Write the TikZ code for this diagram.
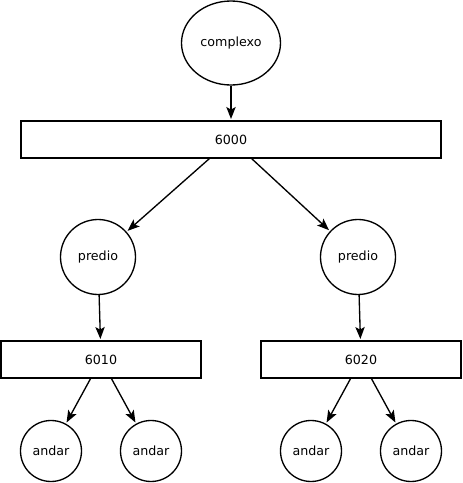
\documentclass[tikz,border=0pt]{standalone}
\usepackage{fontspec}
\setmainfont{DejaVu Sans}
\usetikzlibrary{arrows.meta,shapes.geometric}
\begin{document}
\begin{tikzpicture}[x=0.75pt,y=-0.75pt,
  every node/.style={font=\fontsize{9.5}{11}\selectfont, line width=1pt, draw, inner sep=0pt},
  box/.style={rectangle},
  circ/.style={circle},
  conn/.style={line width=1pt, -{Stealth[length=9pt,width=7pt,inset=2pt]}, shorten >=1pt}]
\useasboundingbox (0,0) rectangle (462,483);
\node[ellipse, minimum width=99*0.75pt, minimum height=84*0.75pt] (cx) at (231,43) {complexo};
\node[box, minimum width=420*0.75pt, minimum height=37*0.75pt] (b6000) at (231,139.5) {6000};
\node[circ, minimum size=75*0.75pt] (pl) at (98,257) {predio};
\node[circ, minimum size=75*0.75pt] (pr) at (358,257) {predio};
\node[box, minimum width=200*0.75pt, minimum height=37*0.75pt] (b6010) at (101,359.5) {6010};
\node[box, minimum width=200*0.75pt, minimum height=37*0.75pt] (b6020) at (361,359.5) {6020};
\node[circ, minimum size=61*0.75pt] (a1) at (51,451) {andar};
\node[circ, minimum size=61*0.75pt] (a2) at (151,451) {andar};
\node[circ, minimum size=61*0.75pt] (a3) at (311,451) {andar};
\node[circ, minimum size=61*0.75pt] (a4) at (411,451) {andar};
\draw[conn] (cx) -- (b6000);
\draw[conn] (b6000) -- (pl);
\draw[conn] (b6000) -- (pr);
\draw[conn] (pl) -- (b6010);
\draw[conn] (pr) -- (b6020);
\draw[conn] (b6010) -- (a1);
\draw[conn] (b6010) -- (a2);
\draw[conn] (b6020) -- (a3);
\draw[conn] (b6020) -- (a4);
\end{tikzpicture}
\end{document}
